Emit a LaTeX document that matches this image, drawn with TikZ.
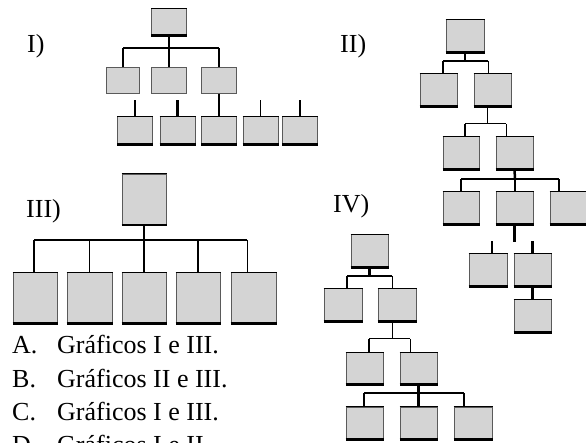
\documentclass[tikz,border=0pt]{standalone}
\usepackage{fontspec}
\setmainfont{Liberation Serif}
\usepackage{xcolor}
\definecolor{boxfill}{HTML}{D4D4D4}
\definecolor{boxedge}{HTML}{5A5A5A}
\usepackage{tikz}
\usetikzlibrary{calc}
\begin{document}
\begin{tikzpicture}[x=1pt,y=-1pt,
		plainbox/.style={draw=boxedge, fill=boxfill, line width=1pt, inner sep=0pt,
			minimum width=37pt, minimum height=32pt},
		box/.style={plainbox, append after command={
			(\tikzlastnode.north west) edge[draw=black, line width=1pt] (\tikzlastnode.north east)
			(\tikzlastnode.south west) edge[draw=black, line width=2.5pt] (\tikzlastnode.south east)}},
		boxI/.style={minimum width=35pt, minimum height=26pt},
		boxIII/.style={minimum width=44pt, minimum height=50pt},
		link/.style={line width=2.5pt},
		thinlink/.style={line width=1pt},
		lbl/.style={anchor=base west, inner sep=0pt, font=\fontsize{26}{30}\selectfont}]
	\useasboundingbox (0,0) rectangle (586,443);
	% labels
	\node[lbl] (lI) at (27,53) {I)};
	\node[lbl] (lII) at (340,53) {II)};
	\node[lbl] (lIII) at (26,218) {III)};
	\node[lbl] (lIV) at (333,213) {IV)};
	% chart I
	\node[box, boxI] (Ia) at (169,22) {};
	\node[plainbox, boxI, minimum width=33pt] (Ib1) at (123,80.5) {};
	\node[plainbox, boxI] (Ib2) at (169,80.5) {};
	\node[plainbox, boxI] (Ib3) at (219,80.5) {};
	\node[box, boxI, minimum height=27pt] (Ic1) at (135,130.5) {};
	\node[box, boxI, minimum height=27pt] (Ic2) at (177.5,130.5) {};
	\node[box, boxI, minimum height=27pt] (Ic3) at (219,130.5) {};
	\node[box, boxI, minimum height=27pt] (Ic4) at (260.5,130.5) {};
	\node[box, boxI, minimum height=27pt] (Ic5) at (300,130.5) {};
	\coordinate (Ij) at (169,48);
	\coordinate (IjL) at (123,48);
	\coordinate (IjR) at (219,48);
	\draw[link] (Ia.south) -- (Ij);
	\draw[link] (IjL) -- (IjR);
	\draw[link] (IjL) -- (IjL |- Ib1.north);
	\draw[link] (Ij) -- (Ij |- Ib2.north);
	\draw[link] (IjR) -- (IjR |- Ib3.north);
	\foreach \n in {Ic1,Ic2,Ic5}
		\draw[link] (\n.north) -- ++(0,-16);
	\draw[thinlink] (Ic4.north) -- ++(0,-16);
	\draw[link] (Ib3.south) -- (Ic3.north);
	% chart II
	\node[box, minimum width=38pt] (IIa) at (465,36) {};
	\node[box] (IIb1) at (438.5,90) {};
	\node[box] (IIb2) at (492.5,90) {};
	\node[box, minimum width=36pt] (IIc1) at (461,153) {};
	\node[box] (IIc2) at (514.5,153) {};
	\node[box, minimum width=36pt] (IId1) at (461,208) {};
	\node[box] (IId2) at (514.5,208) {};
	\node[box] (IId3) at (568.5,208) {};
	\node[box, minimum width=38pt] (IIe1) at (488,270) {};
	\node[box] (IIe2) at (532.5,270) {};
	\node[box] (IIf) at (532.5,316) {};
	\coordinate (IIj1) at (465,61);
	\coordinate (IIj1L) at (443,61);
	\coordinate (IIj1R) at (488,61);
	\draw[link] (IIa.south) -- (IIj1);
	\draw[link] (IIj1L) -- (IIj1R);
	\draw[link] (IIj1L) -- (IIj1L |- IIb1.north);
	\draw[thinlink] (IIj1R) -- (IIj1R |- IIb2.north);
	\coordinate (IIj2) at (487,124);
	\coordinate (IIj2L) at (465,124);
	\coordinate (IIj2R) at (506,124);
	\draw[thinlink] (IIj2 |- IIb2.south) -- (IIj2);
	\draw[thinlink] (IIj2L) -- (IIj2R);
	\draw[link] (IIj2L) -- (IIj2L |- IIc1.north);
	\draw[thinlink] (IIj2R) -- (IIj2R |- IIc2.north);
	\coordinate (IIj3) at (515,179);
	\coordinate (IIj3L) at (461,179);
	\coordinate (IIj3R) at (559,179);
	\draw[link] (IIc2.south) -- (IIj3);
	\draw[link] (IIj3L) -- (IIj3R);
	\draw[link] (IIj3L) -- (IIj3L |- IId1.north);
	\draw[link] (IIj3) -- (IIj3 |- IId2.north);
	\draw[link] (IIj3R) -- (IIj3R |- IId3.north);
	\draw[link] (IId2.south) -- ++(0,18);
	\draw[link] ([xshift=4pt]IIe1.north) -- ++(0,-12);
	\draw[link] (IIe2.north) -- ++(0,-12);
	\draw[link] (IIe2.south) -- (IIf.north);
	% chart III
	\node[box, boxIII] (IIIa) at (144,199.5) {};
	\node[box, boxIII] (IIIb1) at (35,298) {};
	\node[box, boxIII, minimum width=45pt] (IIIb2) at (89.5,298) {};
	\node[box, boxIII] (IIIb3) at (144,298) {};
	\node[box, boxIII] (IIIb4) at (198,298) {};
	\node[box, boxIII, minimum width=45pt] (IIIb5) at (253.5,298) {};
	\coordinate (IIIj) at (144,240);
	\coordinate (IIIjL) at (34,240);
	\coordinate (IIIjR) at (247,240);
	\draw[link] (IIIa.south) -- (IIIj);
	\draw[link] (IIIjL) -- (IIIjR);
	\draw[link] (IIIjL) -- (IIIjL |- IIIb1.north);
	\draw[thinlink] (IIIb2.north |- IIIj) -- (IIIb2.north);
	\draw[link] (IIIj) -- (IIIb3.north);
	\draw[link] (IIIb4.north |- IIIj) -- (IIIb4.north);
	\draw[thinlink] (IIIjR) -- (IIIjR |- IIIb5.north);
	% chart IV
	\node[box] (IVa) at (369.5,251) {};
	\node[box, minimum width=38pt] (IVb1) at (343,305) {};
	\node[box, minimum width=38pt] (IVb2) at (397,305) {};
	\node[box, minimum height=31pt] (IVc1) at (364.5,368.5) {};
	\node[box, minimum height=31pt] (IVc2) at (418.5,368.5) {};
	\node[box] (IVd1) at (364.5,423) {};
	\node[box] (IVd2) at (418.5,423) {};
	\node[box, minimum width=38pt] (IVd3) at (473,423) {};
	\coordinate (IVj1) at (369.5,276);
	\coordinate (IVj1L) at (347,276);
	\coordinate (IVj1R) at (392,276);
	\draw[link] (IVa.south) -- (IVj1);
	\draw[link] (IVj1L) -- (IVj1R);
	\draw[link] (IVj1L) -- (IVj1L |- IVb1.north);
	\draw[thinlink] (IVj1R) -- (IVj1R |- IVb2.north);
	\coordinate (IVj2) at (392,339);
	\coordinate (IVj2L) at (369,339);
	\coordinate (IVj2R) at (410,339);
	\draw[thinlink] (IVj2 |- IVb2.south) -- (IVj2);
	\draw[thinlink] (IVj2L) -- (IVj2R);
	\draw[link] (IVj2L) -- (IVj2L |- IVc1.north);
	\draw[thinlink] (IVj2R) -- (IVj2R |- IVc2.north);
	\coordinate (IVj3) at (418.5,393);
	\coordinate (IVj3L) at (364,393);
	\coordinate (IVj3R) at (464,393);
	\draw[link] (IVc2.south) -- (IVj3);
	\draw[link] (IVj3L) -- (IVj3R);
	\draw[link] (IVj3L) -- (IVj3L |- IVd1.north);
	\draw[link] (IVj3) -- (IVd2.north);
	\draw[link] (IVj3R) -- (IVj3R |- IVd3.north);
	% answer options
	\foreach \l/\t [count=\i] in {A/Gráficos I e III., B/Gráficos II e III., C/Gráficos I e III., D/Gráficos I e II.} {
		\node[lbl] (opt\l) at (12,{321+33*\i}) {\l.};
		\node[lbl] (txt\l) at (57,{321+33*\i}) {\t};
	}
\end{tikzpicture}
\end{document}
